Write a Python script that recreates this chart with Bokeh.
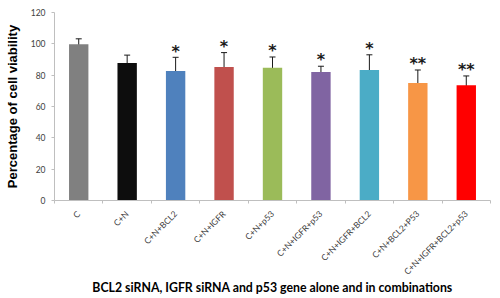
import math
from bokeh.plotting import figure
from bokeh.models import ColumnDataSource, Range1d, FixedTicker, Whisker, TeeHead
from bokeh.core.properties import value
from bokeh.embed import file_html
from bokeh.resources import INLINE

categories = ["C", "C+N", "C+N+BCL2", "C+N+IGFR", "C+N+p53", "C+N+IGFR+p53",
              "C+N+IGFR+BCL2", "C+N+BCL2+P53", "C+N+IGFR+BCL2+p53"]
viability = [99.7, 87.8, 82.6, 85.2, 84.8, 82.0, 83.3, 75.0, 73.5]
errors = [3.5, 5.0, 8.8, 9.2, 6.8, 3.7, 9.7, 8.3, 6.0]
significance = ["", "", "*", "*", "*", "*", "*", "**", "**"]
colors = ["#808080", "#0d0d0d", "#4f81bd", "#c0504d", "#9bbb59", "#8064a2",
          "#4bacc6", "#f79646", "#ff0000"]
y_ticks = [0, 20, 40, 60, 80, 100, 120]
x_title = "BCL2 siRNA, IGFR siRNA and p53 gene alone and in combinations"
y_title = "Percentage of cell viability"

n = len(categories)
xs = list(range(1, n + 1))
src = ColumnDataSource(dict(
    x=xs, top=viability, color=colors,
    upper=[v + e for v, e in zip(viability, errors)],
    lower=[v - e for v, e in zip(viability, errors)],
    star=significance,
    star_y=[v + e + 4.0 for v, e in zip(viability, errors)],
))

p = figure(width=500, height=298, output_backend="svg", toolbar_location=None,
           x_range=Range1d(0.5, n + 0.5), y_range=Range1d(0, 120),
           min_border_left=54, min_border_right=10, min_border_top=12,
           min_border_bottom=98)
p.outline_line_color = None
p.grid.grid_line_color = None
p.background_fill_color = "white"
p.border_fill_color = "white"

p.vbar(x="x", top="top", width=0.4, fill_color="color", line_color=None, source=src)

p.add_layout(Whisker(base="x", upper="upper", lower="lower", source=src,
                     line_color="#1a1a1a", line_width=1,
                     upper_head=TeeHead(size=6, line_color="#1a1a1a", line_width=1),
                     lower_head=TeeHead(size=6, line_color="#1a1a1a", line_width=1)))

p.text(x="x", y="star_y", text="star", source=src, text_align="center",
       text_baseline="middle", text_font=value("DejaVu Sans"),
       text_font_size="16px", text_color="#1a1a1a", text_font_style="bold")

# y axis
p.yaxis.ticker = FixedTicker(ticks=y_ticks)
p.yaxis.axis_line_color = "#bfbfbf"
p.yaxis.major_tick_line_color = "#bfbfbf"
p.yaxis.major_tick_out = 3
p.yaxis.major_tick_in = 0
p.yaxis.minor_tick_line_color = None
p.yaxis.major_label_text_font = "Lato"
p.yaxis.major_label_text_font_size = "8.5px"
p.yaxis.major_label_text_color = "#404040"
p.yaxis.major_label_standoff = 6
p.yaxis.axis_label = y_title
p.yaxis.axis_label_text_font = "Liberation Sans"
p.yaxis.axis_label_text_font_style = "bold"
p.yaxis.axis_label_text_font_size = "13px"
p.yaxis.axis_label_text_color = "#000000"
p.yaxis.axis_label_standoff = 8

# x axis
p.xaxis.ticker = FixedTicker(ticks=xs, minor_ticks=[i + 0.5 for i in range(0, n + 1)])
p.xaxis.major_label_overrides = {i + 1: c for i, c in enumerate(categories)}
p.xaxis.major_label_orientation = math.pi / 4
p.xaxis.axis_line_color = "#bfbfbf"
p.xaxis.major_tick_out = 0
p.xaxis.major_tick_in = 0
p.xaxis.minor_tick_line_color = "#bfbfbf"
p.xaxis.minor_tick_out = 3
p.xaxis.minor_tick_in = 0
p.xaxis.major_label_text_font = "Lato"
p.xaxis.major_label_text_font_size = "8.5px"
p.xaxis.major_label_text_color = "#404040"
p.xaxis.major_label_standoff = 9
p.xaxis.axis_label = x_title
p.xaxis.axis_label_text_font = "Lato"
p.xaxis.axis_label_text_font_style = "bold"
p.xaxis.axis_label_text_font_size = "12.3px"
p.xaxis.axis_label_text_color = "#000000"
p.xaxis.axis_label_standoff = -3

open("out.html", "w").write(file_html(p, INLINE))
